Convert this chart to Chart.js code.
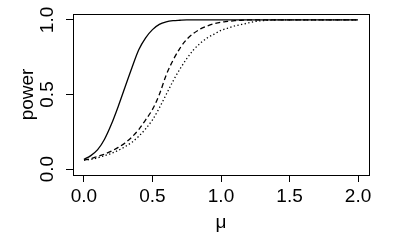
<!DOCTYPE html>
<html>
<head>
<meta charset="utf-8">
<script src="https://cdn.jsdelivr.net/npm/chart.js@4.4.1/dist/chart.umd.min.js"></script>
<style>
html,body{margin:0;padding:0;background:#fff;}
#wrap{width:400px;height:250px;}
</style>
</head>
<body>
<div id="wrap"><canvas id="c" width="400" height="250"></canvas></div>
<script>
const mu = [0,0.05,0.1,0.15,0.2,0.25,0.3,0.35,0.4,0.45,0.5,0.55,0.6,0.65,0.7,0.75,0.8,0.85,0.9,0.95,1.0,1.05,1.1,1.15,1.2,1.25,1.3,1.35,1.4,1.5,1.6,1.7,1.8,1.9,2.0];
const powerSolid = [0.065,0.09,0.13,0.2,0.3,0.42,0.55,0.68,0.8,0.88,0.935,0.97,0.987,0.995,0.998,1,1,1,1,1,1,1,1,1,1,1,1,1,1,1,1,1,1,1,1];
const powerDashed = [0.06,0.07,0.085,0.1,0.12,0.145,0.175,0.215,0.265,0.33,0.4,0.5,0.63,0.73,0.81,0.87,0.91,0.94,0.96,0.975,0.985,0.99,0.995,0.998,1,1,1,1,1,1,1,1,1,1,1];
const powerDotted = [0.06,0.065,0.075,0.09,0.105,0.125,0.15,0.18,0.22,0.27,0.33,0.41,0.5,0.59,0.67,0.74,0.8,0.845,0.88,0.905,0.93,0.945,0.96,0.97,0.98,0.99,0.995,0.998,1,1,1,1,1,1,1];
const xTicks = [0,0.5,1,1.5,2];
const yTicks = [0,0.5,1];
const xTitle = "μ";
const yTitle = "power";

const FONT = "'Liberation Sans', Arial, Helvetica, sans-serif";
const FS = 19;

function pts(arr){ return mu.map((m,i)=>({x:m,y:arr[i]})); }

const framePlugin = {
  id:'frame',
  afterDraw(chart){
    const {ctx, chartArea:a, scales} = chart;
    ctx.save();
    ctx.strokeStyle = '#000';
    ctx.lineWidth = 1;
    ctx.strokeRect(Math.round(a.left)+0.5, Math.round(a.top)+0.5, Math.round(a.right-a.left), Math.round(a.bottom-a.top));
    const ys = scales.y;
    ctx.fillStyle = '#000';
    ctx.font = FS + 'px ' + FONT;
    ctx.textAlign = 'center';
    ctx.textBaseline = 'middle';
    ys.ticks.forEach(t=>{
      const py = ys.getPixelForValue(t.value);
      ctx.save();
      ctx.translate(48, py);
      ctx.rotate(-Math.PI/2);
      ctx.fillText(t.value.toFixed(1), 0, 0);
      ctx.restore();
    });
    ctx.restore();
  }
};

new Chart(document.getElementById('c'), {
  type:'line',
  data:{
    datasets:[
      {data:pts(powerSolid), borderColor:'#000', borderWidth:1.3, pointRadius:0, cubicInterpolationMode:'monotone', fill:false},
      {data:pts(powerDashed), borderColor:'#000', borderWidth:1.3, borderDash:[5,3], pointRadius:0, cubicInterpolationMode:'monotone', fill:false},
      {data:pts(powerDotted), borderColor:'#000', borderWidth:1.3, borderDash:[1.3,2.4], pointRadius:0, cubicInterpolationMode:'monotone', fill:false}
    ]
  },
  options:{
    responsive:false,
    animation:false,
    events:[],
    layout:{padding:{top:14,right:31,left:0,bottom:0}},
    plugins:{legend:{display:false},tooltip:{enabled:false}},
    scales:{
      x:{
        type:'linear', min:-0.08, max:2.08,
        afterBuildTicks(s){ s.ticks = xTicks.map(v=>({value:v})); },
        afterFit(s){ s.height = 75; },
        grid:{drawOnChartArea:false, drawTicks:true, tickLength:7, color:'#000', lineWidth:1},
        border:{display:false},
        ticks:{color:'#000', font:{family:FONT,size:FS}, padding:3, maxRotation:0, autoSkip:false, callback:v=>Number(v).toFixed(1)},
        title:{display:true, text:xTitle, color:'#000', font:{family:FONT,size:FS}, padding:{top:0,bottom:15.5}}
      },
      y:{
        type:'linear', min:-0.04, max:1.04,
        afterBuildTicks(s){ s.ticks = yTicks.map(v=>({value:v})); },
        afterFit(s){ s.width = 73; },
        grid:{drawOnChartArea:false, drawTicks:true, tickLength:7, color:'#000', lineWidth:1},
        border:{display:false},
        ticks:{display:false},
        title:{display:true, text:yTitle, color:'#000', font:{family:FONT,size:FS}, padding:{top:16.5,bottom:0}}
      }
    }
  },
  plugins:[framePlugin]
});
</script>
</body>
</html>
